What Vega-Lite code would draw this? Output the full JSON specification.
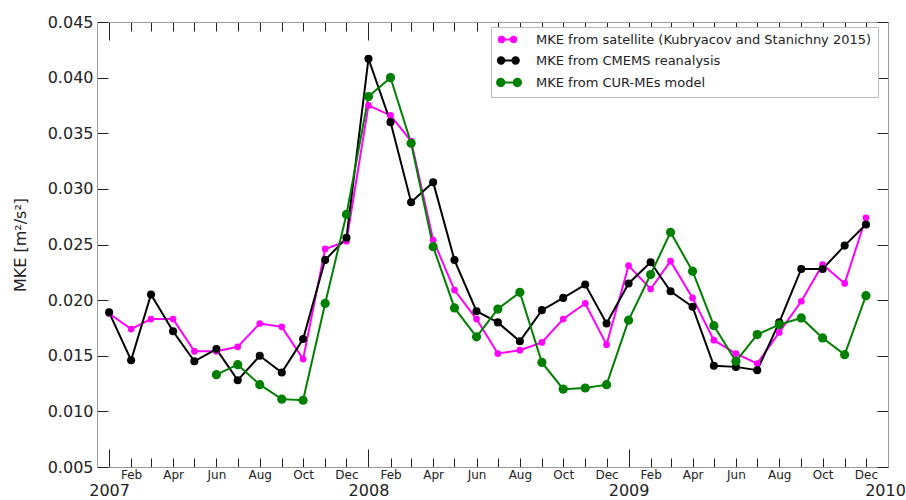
{
  "$schema": "https://vega.github.io/schema/vega-lite/v6.json",
  "width": 791,
  "height": 445,
  "autosize": {"type": "none"},
  "padding": {"left": 97, "top": 22, "right": 18, "bottom": 33},
  "background": "white",
  "config": {
    "view": {"stroke": null},
    "font": "DejaVu Sans",
    "axis": {"grid": false, "domainColor": "#999", "tickColor": "#222", "labelColor": "#222", "labelFont": "DejaVu Sans", "titleFont": "DejaVu Sans", "titleColor": "#222"}
  },
  "data": {
    "format": {"parse": {"d": "date:'%Y-%m'"}},
    "values": [
      {"d": "2007-01", "s": "sat", "v": 0.0188},
      {"d": "2007-02", "s": "sat", "v": 0.0174},
      {"d": "2007-03", "s": "sat", "v": 0.0183},
      {"d": "2007-04", "s": "sat", "v": 0.0183},
      {"d": "2007-05", "s": "sat", "v": 0.0154},
      {"d": "2007-06", "s": "sat", "v": 0.0154},
      {"d": "2007-07", "s": "sat", "v": 0.0158},
      {"d": "2007-08", "s": "sat", "v": 0.0179},
      {"d": "2007-09", "s": "sat", "v": 0.0176},
      {"d": "2007-10", "s": "sat", "v": 0.0147},
      {"d": "2007-11", "s": "sat", "v": 0.0246},
      {"d": "2007-12", "s": "sat", "v": 0.0253},
      {"d": "2008-01", "s": "sat", "v": 0.0375},
      {"d": "2008-02", "s": "sat", "v": 0.0366},
      {"d": "2008-03", "s": "sat", "v": 0.0343},
      {"d": "2008-04", "s": "sat", "v": 0.0254},
      {"d": "2008-05", "s": "sat", "v": 0.0209},
      {"d": "2008-06", "s": "sat", "v": 0.0183},
      {"d": "2008-07", "s": "sat", "v": 0.0152},
      {"d": "2008-08", "s": "sat", "v": 0.0155},
      {"d": "2008-09", "s": "sat", "v": 0.0162},
      {"d": "2008-10", "s": "sat", "v": 0.0183},
      {"d": "2008-11", "s": "sat", "v": 0.0197},
      {"d": "2008-12", "s": "sat", "v": 0.0160},
      {"d": "2009-01", "s": "sat", "v": 0.0231},
      {"d": "2009-02", "s": "sat", "v": 0.0210},
      {"d": "2009-03", "s": "sat", "v": 0.0235},
      {"d": "2009-04", "s": "sat", "v": 0.0202},
      {"d": "2009-05", "s": "sat", "v": 0.0164},
      {"d": "2009-06", "s": "sat", "v": 0.0152},
      {"d": "2009-07", "s": "sat", "v": 0.0143},
      {"d": "2009-08", "s": "sat", "v": 0.0171},
      {"d": "2009-09", "s": "sat", "v": 0.0199},
      {"d": "2009-10", "s": "sat", "v": 0.0232},
      {"d": "2009-11", "s": "sat", "v": 0.0215},
      {"d": "2009-12", "s": "sat", "v": 0.0274},
      {"d": "2007-01", "s": "cmems", "v": 0.0189},
      {"d": "2007-02", "s": "cmems", "v": 0.0146},
      {"d": "2007-03", "s": "cmems", "v": 0.0205},
      {"d": "2007-04", "s": "cmems", "v": 0.0172},
      {"d": "2007-05", "s": "cmems", "v": 0.0145},
      {"d": "2007-06", "s": "cmems", "v": 0.0156},
      {"d": "2007-07", "s": "cmems", "v": 0.0128},
      {"d": "2007-08", "s": "cmems", "v": 0.0150},
      {"d": "2007-09", "s": "cmems", "v": 0.0135},
      {"d": "2007-10", "s": "cmems", "v": 0.0165},
      {"d": "2007-11", "s": "cmems", "v": 0.0236},
      {"d": "2007-12", "s": "cmems", "v": 0.0256},
      {"d": "2008-01", "s": "cmems", "v": 0.0417},
      {"d": "2008-02", "s": "cmems", "v": 0.0360},
      {"d": "2008-03", "s": "cmems", "v": 0.0288},
      {"d": "2008-04", "s": "cmems", "v": 0.0306},
      {"d": "2008-05", "s": "cmems", "v": 0.0236},
      {"d": "2008-06", "s": "cmems", "v": 0.0190},
      {"d": "2008-07", "s": "cmems", "v": 0.0180},
      {"d": "2008-08", "s": "cmems", "v": 0.0163},
      {"d": "2008-09", "s": "cmems", "v": 0.0191},
      {"d": "2008-10", "s": "cmems", "v": 0.0202},
      {"d": "2008-11", "s": "cmems", "v": 0.0214},
      {"d": "2008-12", "s": "cmems", "v": 0.0179},
      {"d": "2009-01", "s": "cmems", "v": 0.0215},
      {"d": "2009-02", "s": "cmems", "v": 0.0234},
      {"d": "2009-03", "s": "cmems", "v": 0.0208},
      {"d": "2009-04", "s": "cmems", "v": 0.0194},
      {"d": "2009-05", "s": "cmems", "v": 0.0141},
      {"d": "2009-06", "s": "cmems", "v": 0.0140},
      {"d": "2009-07", "s": "cmems", "v": 0.0137},
      {"d": "2009-08", "s": "cmems", "v": 0.0180},
      {"d": "2009-09", "s": "cmems", "v": 0.0228},
      {"d": "2009-10", "s": "cmems", "v": 0.0228},
      {"d": "2009-11", "s": "cmems", "v": 0.0249},
      {"d": "2009-12", "s": "cmems", "v": 0.0268},
      {"d": "2007-06", "s": "model", "v": 0.0133},
      {"d": "2007-07", "s": "model", "v": 0.0142},
      {"d": "2007-08", "s": "model", "v": 0.0124},
      {"d": "2007-09", "s": "model", "v": 0.0111},
      {"d": "2007-10", "s": "model", "v": 0.0110},
      {"d": "2007-11", "s": "model", "v": 0.0197},
      {"d": "2007-12", "s": "model", "v": 0.0277},
      {"d": "2008-01", "s": "model", "v": 0.0383},
      {"d": "2008-02", "s": "model", "v": 0.0400},
      {"d": "2008-03", "s": "model", "v": 0.0341},
      {"d": "2008-04", "s": "model", "v": 0.0248},
      {"d": "2008-05", "s": "model", "v": 0.0193},
      {"d": "2008-06", "s": "model", "v": 0.0167},
      {"d": "2008-07", "s": "model", "v": 0.0192},
      {"d": "2008-08", "s": "model", "v": 0.0207},
      {"d": "2008-09", "s": "model", "v": 0.0144},
      {"d": "2008-10", "s": "model", "v": 0.0120},
      {"d": "2008-11", "s": "model", "v": 0.0121},
      {"d": "2008-12", "s": "model", "v": 0.0124},
      {"d": "2009-01", "s": "model", "v": 0.0182},
      {"d": "2009-02", "s": "model", "v": 0.0223},
      {"d": "2009-03", "s": "model", "v": 0.0261},
      {"d": "2009-04", "s": "model", "v": 0.0226},
      {"d": "2009-05", "s": "model", "v": 0.0177},
      {"d": "2009-06", "s": "model", "v": 0.0145},
      {"d": "2009-07", "s": "model", "v": 0.0169},
      {"d": "2009-08", "s": "model", "v": 0.0178},
      {"d": "2009-09", "s": "model", "v": 0.0184},
      {"d": "2009-10", "s": "model", "v": 0.0166},
      {"d": "2009-11", "s": "model", "v": 0.0151},
      {"d": "2009-12", "s": "model", "v": 0.0204}
    ]
  },
  "encoding": {
    "color": {
      "field": "s",
      "type": "nominal",
      "scale": {"domain": ["sat", "cmems", "model"], "range": ["#ff00ff", "#000000", "#008000"]},
      "legend": {
        "orient": "none",
        "legendX": 394,
        "legendY": 5,
        "title": null,
        "labelExpr": "datum.label == 'sat' ? 'MKE from satellite (Kubryacov and Stanichny 2015)' : datum.label == 'cmems' ? 'MKE from CMEMS reanalysis' : 'MKE from CUR-MEs model'",
        "labelFont": "DejaVu Sans",
        "labelFontSize": 13,
        "labelColor": "#222",
        "labelLimit": 0,
        "symbolType": "M-1,0L3.4,0M-1.4,0A0.8,0.8 0 1,0 0.2,0A0.8,0.8 0 1,0 -1.4,0M2.2,0A0.8,0.8 0 1,0 3.8,0A0.8,0.8 0 1,0 2.2,0",
        "symbolSize": 100,
        "symbolStrokeWidth": 2,
        "labelOffset": 26,
        "rowPadding": 6,
        "padding": 6,
        "strokeColor": "#bbb",
        "fillColor": "white",
        "encode": {
          "symbols": {
            "update": {
              "fill": {"scale": "color", "field": "value"},
              "stroke": {"scale": "color", "field": "value"},
              "opacity": {"value": 1}
            }
          }
        }
      }
    }
  },
  "layer": [
    {
      "mark": {"type": "line", "strokeWidth": 2},
      "encoding": {
        "x": {
          "field": "d",
          "type": "temporal",
          "scale": {"domain": [{"year": 2006, "month": 12, "date": 15}, {"year": 2010, "month": 1, "date": 1}]},
          "axis": {
            "orient": "bottom",
            "title": null,
            "tickCount": {"interval": "month", "step": 1},
            "labelExpr": "month(datum.value) == 0 ? timeFormat(datum.value, '%Y') : (month(datum.value) % 2 == 1 ? timeFormat(datum.value, '%b') : '')",
            "labelOverlap": false,
            "labelFlush": false,
            "tickSize": {"condition": {"test": "month(datum.value) == 0", "value": -18}, "value": -9},
            "labelPadding": {"condition": {"test": "month(datum.value) == 0", "value": 33}, "value": 11},
            "labelFontSize": {"condition": {"test": "month(datum.value) == 0", "value": 16}, "value": 12},
            "labelOffset": {"condition": {"test": "year(datum.value) == 2010", "value": -3}, "value": 0}
          }
        },
        "y": {
          "field": "v",
          "type": "quantitative",
          "scale": {"domain": [0.005, 0.045], "nice": false, "zero": false},
          "axis": {
            "orient": "left",
            "values": [0.005, 0.01, 0.015, 0.02, 0.025, 0.03, 0.035, 0.04, 0.045],
            "format": ".3f",
            "labelFontSize": 16,
            "tickSize": -11,
            "labelPadding": 15,
            "title": "MKE [m²/s²]",
            "titleFontSize": 16,
            "titleFontWeight": "normal",
            "titlePadding": 19
          }
        }
      }
    },
    {
      "mark": {"type": "point", "filled": true, "opacity": 1},
      "encoding": {
        "x": {
          "field": "d",
          "type": "temporal",
          "scale": {"domain": [{"year": 2006, "month": 12, "date": 15}, {"year": 2010, "month": 1, "date": 1}]},
          "axis": {
            "orient": "top",
            "title": null,
            "labels": false,
            "tickCount": {"interval": "month", "step": 1},
            "tickSize": {"condition": {"test": "month(datum.value) == 0", "value": -18}, "value": -9}
          }
        },
        "y": {
          "field": "v",
          "type": "quantitative",
          "scale": {"domain": [0.005, 0.045], "nice": false, "zero": false},
          "axis": {
            "orient": "right",
            "title": null,
            "labels": false,
            "values": [0.005, 0.01, 0.015, 0.02, 0.025, 0.03, 0.035, 0.04, 0.045],
            "tickSize": -11
          }
        },
        "size": {
          "field": "s",
          "type": "nominal",
          "scale": {"domain": ["sat", "cmems", "model"], "range": [45, 85, 85]},
          "legend": null
        }
      }
    }
  ],
  "resolve": {"axis": {"x": "independent", "y": "independent"}}
}
